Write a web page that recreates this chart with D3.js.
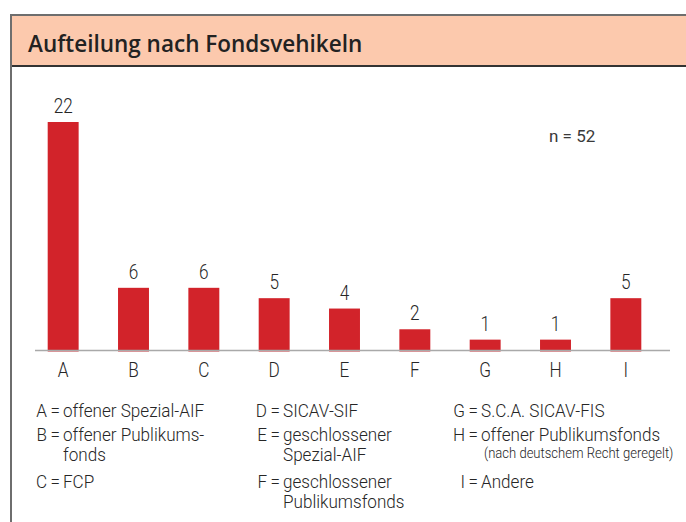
<!DOCTYPE html>
<html lang="de">
<head>
<meta charset="UTF-8">
<title>Aufteilung nach Fondsvehikeln</title>
<script src="https://cdn.jsdelivr.net/npm/d3@7"></script>
<style>
  body { margin: 0; background: #fff; overflow: hidden; }
  .light { font-family: "Roboto", sans-serif; font-weight: 300; fill: #262626; }
</style>
</head>
<body>
<svg id="chart" width="686" height="522"></svg>
<script>
const title = "Aufteilung nach Fondsvehikeln";
const sampleNote = "n = 52";
const categories = ["A", "B", "C", "D", "E", "F", "G", "H", "I"];
const counts = [22, 6, 6, 5, 4, 2, 1, 1, 5];
const legendNames = [
  ["offener Spezial-AIF"],
  ["offener Publikums-", "fonds"],
  ["FCP"],
  ["SICAV-SIF"],
  ["geschlossener", "Spezial-AIF"],
  ["geschlossener", "Publikumsfonds"],
  ["S.C.A. SICAV-FIS"],
  ["offener Publikumsfonds", "(nach deutschem Recht geregelt)"],
  ["Andere"]
];

const svg = d3.select("#chart");

// narrow text: no condensed face installed, so squeeze horizontally
function narrow(sel, x, y, sx) {
  return sel.attr("transform", `translate(${x},${y}) scale(${sx},1)`);
}

// panel frame + header band
svg.append("rect").attr("x", 11).attr("y", 15).attr("width", 690).attr("height", 51)
  .attr("fill", "#fcc9ad");
svg.append("line").attr("x1", 11).attr("x2", 690).attr("y1", 15).attr("y2", 15)
  .attr("stroke", "#6e6e6e").attr("stroke-width", 2);
svg.append("line").attr("x1", 11).attr("x2", 690).attr("y1", 66).attr("y2", 66)
  .attr("stroke", "#333").attr("stroke-width", 2);
svg.append("line").attr("x1", 11).attr("x2", 11).attr("y1", 14).attr("y2", 530)
  .attr("stroke", "#6e6e6e").attr("stroke-width", 2);

svg.append("text").attr("x", 28).attr("y", 52)
  .style("font-family", "'Open Sans', sans-serif").style("font-weight", 600)
  .style("font-size", "22.5px").attr("fill", "#222").text(title);

// scales
const x = d3.scaleBand().domain(categories).range([28, 661])
  .paddingInner(0.56).paddingOuter(0.28);
const y = d3.scaleLinear().domain([0, 22]).range([350, 122]);
const data = categories.map((c, i) => ({ cat: c, v: counts[i] }));

svg.append("g").selectAll("rect").data(data).join("rect")
  .attr("x", d => x(d.cat)).attr("width", x.bandwidth())
  .attr("y", d => y(d.v)).attr("height", d => y(0) - y(d.v) + 1.5)
  .attr("fill", "#d2232a");

svg.append("line").attr("x1", 35).attr("x2", 670).attr("y1", 350.5).attr("y2", 350.5)
  .attr("stroke", "#a9a9a9").attr("stroke-width", 1.5);

svg.append("g").selectAll("text").data(data).join("text")
  .attr("class", "light").attr("text-anchor", "middle").style("font-size", "20px")
  .each(function (d) { narrow(d3.select(this), x(d.cat) + x.bandwidth() / 2, y(d.v) - 9, 0.86); })
  .text(d => d.v);

const axis = svg.append("g").attr("transform", "translate(0,350)")
  .call(d3.axisBottom(x).tickSize(0).tickPadding(0));
axis.select(".domain").remove();
axis.selectAll("text").attr("class", "light").attr("dy", null).attr("y", 0)
  .attr("transform", "translate(0,27) scale(0.86,1)")
  .style("font-size", "20px");

svg.append("text").attr("x", 549).attr("y", 142)
  .style("font-family", "Roboto, sans-serif").style("font-size", "17px")
  .attr("fill", "#3a3a3a").text(sampleNote);

// legend: three columns of three entries
const colX = [35, 255, 453];
const rowY = [417, 441, 488];
const sx = 0.9;
const leg = svg.append("g").style("font-size", "19px");
legendNames.forEach((lines, i) => {
  const cx = colX[Math.floor(i / 3)], cy = rowY[i % 3];
  narrow(leg.append("text").attr("class", "light").attr("text-anchor", "end"), cx + 12, cy, sx)
    .text(categories[i]);
  narrow(leg.append("text").attr("class", "light"), cx + 15.5, cy, sx).text("=");
  narrow(leg.append("text").attr("class", "light"), cx + 28, cy, sx).text(lines[0]);
  lines.slice(1).forEach((l, j) => {
    const note = l.startsWith("(");
    narrow(leg.append("text").attr("class", "light"),
      cx + (note ? 31 : 28), cy + (note ? 17 : 20) * (j + 1), sx)
      .style("font-size", note ? "14.5px" : null).text(l);
  });
});
</script>
</body>
</html>
